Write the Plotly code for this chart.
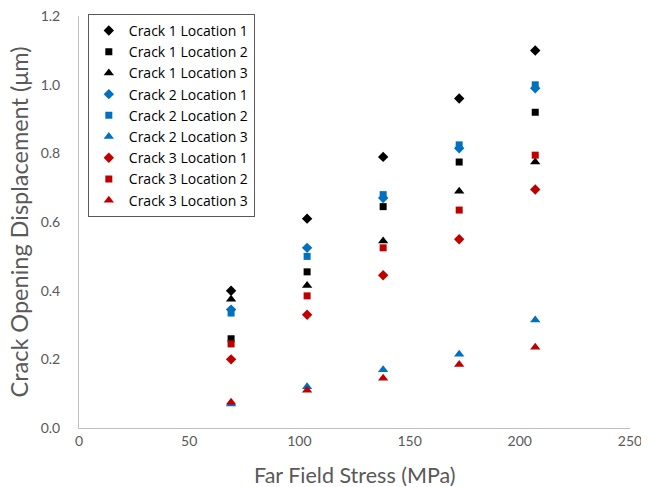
import plotly.graph_objects as go

stress = [69, 103.5, 138, 172.5, 207]

c1_l1 = [0.40, 0.61, 0.79, 0.96, 1.10]
c1_l2 = [0.26, 0.455, 0.645, 0.775, 0.92]
c1_l3 = [0.375, 0.415, 0.545, 0.69, 0.775]
c2_l1 = [0.345, 0.525, 0.67, 0.815, 0.99]
c2_l2 = [0.335, 0.50, 0.68, 0.825, 1.00]
c2_l3 = [0.07, 0.12, 0.17, 0.215, 0.315]
c3_l1 = [0.20, 0.33, 0.445, 0.55, 0.695]
c3_l2 = [0.245, 0.385, 0.525, 0.635, 0.795]
c3_l3 = [0.075, 0.11, 0.145, 0.185, 0.235]

y_ticks = [0.0, 0.2, 0.4, 0.6, 0.8, 1.0, 1.2]
y_tick_text = ["0.0", "0.2", "0.4", "0.6", "0.8", "1.0", "1.2"]

series = [
    ("Crack 1 Location 1", c1_l1, "#000000", "diamond", 8),
    ("Crack 1 Location 2", c1_l2, "#000000", "square", 7),
    ("Crack 1 Location 3", c1_l3, "#000000", "triangle-up", 9),
    ("Crack 2 Location 1", c2_l1, "#0070C0", "diamond", 8),
    ("Crack 2 Location 2", c2_l2, "#0070C0", "square", 7),
    ("Crack 2 Location 3", c2_l3, "#0070C0", "triangle-up", 9),
    ("Crack 3 Location 1", c3_l1, "#C00000", "diamond", 8),
    ("Crack 3 Location 2", c3_l2, "#C00000", "square", 7),
    ("Crack 3 Location 3", c3_l3, "#C00000", "triangle-up", 9),
]

fig = go.Figure()
for name, ys, col, sym, sz in series:
    fig.add_trace(go.Scatter(x=stress, y=ys, mode="markers", name=name,
                             marker=dict(color=col, symbol=sym, size=sz, line=dict(width=0))))

# page body has an 8px default margin, so the figure is shrunk and shifted accordingly
fig.update_layout(
    width=641, height=479,
    margin=dict(l=71, r=19, t=8, b=59, autoexpand=False),
    paper_bgcolor="white", plot_bgcolor="white",
    font=dict(family="Lato, Open Sans, sans-serif", color="#595959", size=13),
    xaxis=dict(range=[0, 250], dtick=50, showgrid=False, zeroline=False, automargin=False,
               showline=True, linecolor="#BFBFBF", linewidth=1, ticks="",
               tickfont=dict(size=14, color="#595959"), ticklabeloverflow="allow"),
    yaxis=dict(range=[0, 1.2005], tickmode="array", tickvals=y_ticks, ticktext=y_tick_text,
               showgrid=False, zeroline=False, automargin=False,
               showline=True, linecolor="#BFBFBF", linewidth=1, ticks="",
               tickfont=dict(size=14, color="#595959"), ticklabeloverflow="allow",
               ticklabelstandoff=15),
    legend=dict(x=0.016, y=1.005, xanchor="left", yanchor="top",
                bgcolor="white", bordercolor="#595959", borderwidth=1,
                font=dict(family="Open Sans, sans-serif", size=14, color="#000000"), itemwidth=30, tracegroupgap=0),
    annotations=[
        dict(text="Far Field Stress (MPa)", xref="paper", yref="paper",
             x=0.5, y=-0.114, xanchor="center", yanchor="middle", showarrow=False,
             font=dict(size=21.5, color="#595959")),
        dict(text="Crack Opening Displacement (μm)", xref="paper", yref="paper",
             x=-0.108, y=0.5, xanchor="center", yanchor="middle", showarrow=False,
             textangle=-90, font=dict(size=23.5, color="#595959")),
    ],
)

fig.write_html("out.html")
